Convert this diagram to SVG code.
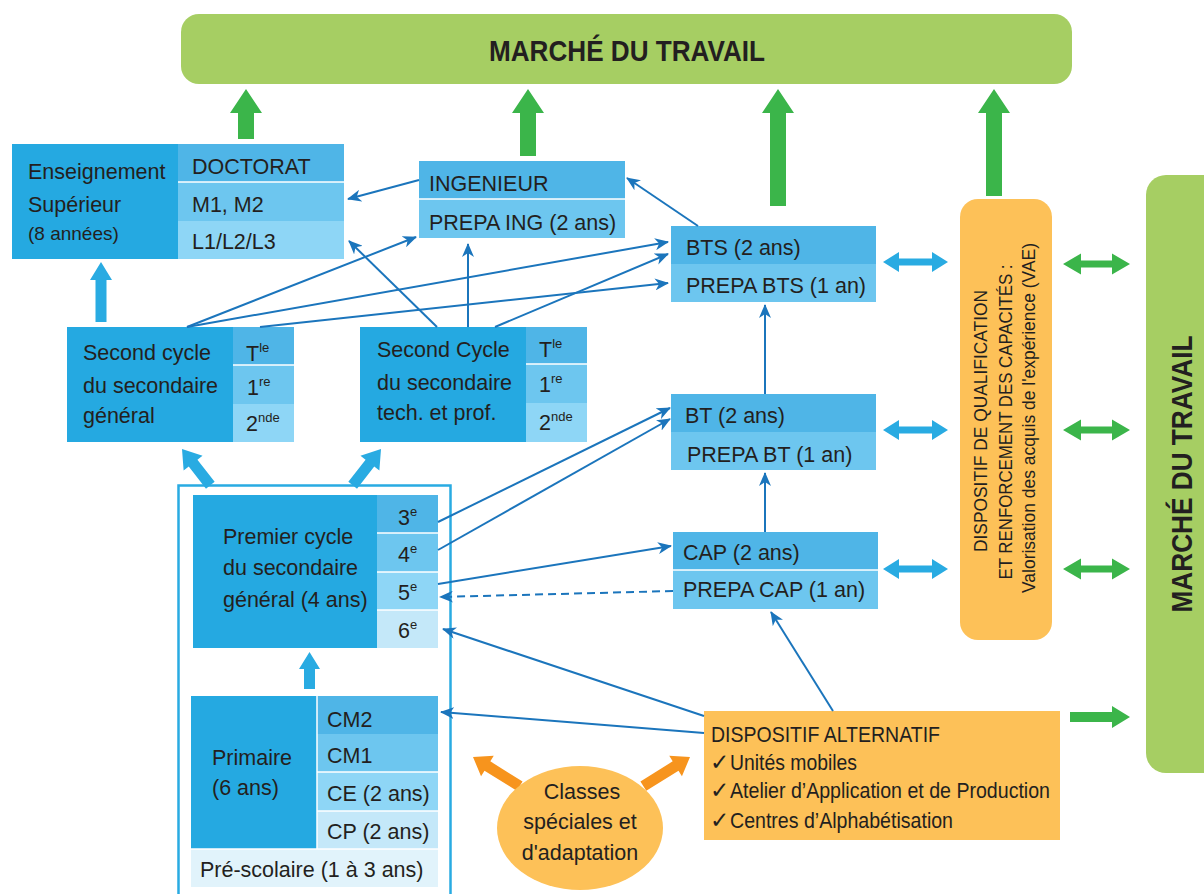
<svg xmlns="http://www.w3.org/2000/svg" width="1204" height="894" viewBox="0 0 1204 894">
<defs>
<style>
.t{font-family:"Liberation Sans","DejaVu Sans",sans-serif;font-size:21.5px;fill:#231f20}
.s{font-size:13px}
.b{font-weight:bold}
.ck{font-family:"DejaVu Sans",sans-serif;font-size:23px;fill:#231f20}
.c{fill:none;stroke:#1b75bc;stroke-width:2;marker-end:url(#ah)}
.d{stroke-dasharray:8 5}
.m{fill:#25a9e1}
.r1{fill:#4fb5e7}
.r2{fill:#6dc6ef}
.r3{fill:#8ed6f6}
.r4{fill:#c4e8f9}
.r5{fill:#e1f3fb}
.sep{stroke:#fff;stroke-width:1.5}
.ga{fill:#3bb54a}
.ba{fill:#29abe2}
.oa{fill:#f7941d}
.or{fill:#fdc158}
.gr{fill:#a6ce63}
</style>
<marker id="ah" markerUnits="userSpaceOnUse" markerWidth="14" markerHeight="12" refX="13" refY="6" orient="auto">
<path d="M0,0 L14,6 L0,12 L4,6 z" fill="#1b75bc"/>
</marker>
</defs>

<g id="marche-top">
<rect x="181" y="14" width="891" height="70" rx="18" class="gr"/>
<text x="627" y="61" class="t b" style="font-size:30px" text-anchor="middle" textLength="276" lengthAdjust="spacingAndGlyphs">MARCHÉ DU TRAVAIL</text>
</g>

<g id="marche-right">
<rect x="1146" y="175" width="90" height="598" rx="20" class="gr"/>
<text transform="translate(1192,474) rotate(-90)" class="t b" style="font-size:30px" text-anchor="middle" textLength="277" lengthAdjust="spacingAndGlyphs">MARCHÉ DU TRAVAIL</text>
</g>

<g id="green-arrows">
<polygon class="ga" points="246,89 262,113 254,113 254,139 238,139 238,113 230,113"/>
<polygon class="ga" points="528,89 544,113 536,113 536,156 520,156 520,113 512,113"/>
<polygon class="ga" points="778,89 794,113 786,113 786,206 770,206 770,113 762,113"/>
<polygon class="ga" points="994,89 1010,113 1002,113 1002,196 986,196 986,113 978,113"/>
<path class="ga" d="M1063,264 L1081,253.5 L1081,260.5 L1112,260.5 L1112,253.5 L1130,264 L1112,274.5 L1112,267.5 L1081,267.5 L1081,274.5 Z"/>
<path class="ga" d="M1063,430 L1081,419.5 L1081,426.5 L1112,426.5 L1112,419.5 L1130,430 L1112,440.5 L1112,433.5 L1081,433.5 L1081,440.5 Z"/>
<path class="ga" d="M1063,569 L1081,558.5 L1081,565.5 L1112,565.5 L1112,558.5 L1130,569 L1112,579.5 L1112,572.5 L1081,572.5 L1081,579.5 Z"/>
<path class="ga" d="M1070,712 L1112,712 L1112,706 L1130,717 L1112,728 L1112,722 L1070,722 Z"/>
</g>

<g id="blue-arrows">
<path class="ba" d="M883,262 L899,252 L899,258.5 L932,258.5 L932,252 L948,262 L932,272 L932,265.5 L899,265.5 L899,272 Z"/>
<path class="ba" d="M883,430 L899,420 L899,426.5 L932,426.5 L932,420 L948,430 L932,440 L932,433.5 L899,433.5 L899,440 Z"/>
<path class="ba" d="M883,569 L899,559 L899,565.5 L932,565.5 L932,559 L948,569 L932,579 L932,572.5 L899,572.5 L899,579 Z"/>
<polygon class="ba" points="101,262 112,280 106.5,280 106.5,322 95.5,322 95.5,280 90,280"/>
<polygon class="ba" points="309.5,652 320,669 315,669 315,689 304,689 304,669 299,669"/>
<polygon class="ba" transform="translate(182,449) rotate(-38)" points="0,0 12,18 5.5,18 5.5,46 -5.5,46 -5.5,18 -12,18"/>
<polygon class="ba" transform="translate(381,449) rotate(38)" points="0,0 12,18 5.5,18 5.5,46 -5.5,46 -5.5,18 -12,18"/>
</g>

<g id="ens-sup">
<rect x="12" y="144" width="166" height="115" class="m"/>
<rect x="178" y="144" width="166" height="38" class="r1"/>
<rect x="178" y="182" width="166" height="39" class="r2"/>
<rect x="178" y="221" width="166" height="38" class="r3"/>
<line x1="178" y1="182" x2="344" y2="182" class="sep"/>
<text class="t" x="28" y="179">Enseignement</text>
<text class="t" x="28" y="212">Supérieur</text>
<text class="t" x="28" y="240" style="font-size:19px">(8 années)</text>
<text class="t" x="192" y="174">DOCTORAT</text>
<text class="t" x="192" y="212">M1, M2</text>
<text class="t" x="192" y="249">L1/L2/L3</text>
</g>

<g id="ingenieur">
<rect x="419" y="161" width="206" height="38" class="r1"/>
<rect x="419" y="199" width="206" height="39" class="r2"/>
<line x1="419" y1="199" x2="625" y2="199" class="sep"/>
<text class="t" x="429" y="191">INGENIEUR</text>
<text class="t" x="429" y="230">PREPA ING (2 ans)</text>
</g>

<g id="bts">
<rect x="671" y="226" width="205" height="38" class="r1"/>
<rect x="671" y="264" width="205" height="38" class="r2"/>
<text class="t" x="686" y="255">BTS (2 ans)</text>
<text class="t" x="686" y="293">PREPA BTS (1 an)</text>
</g>

<g id="bt">
<rect x="671" y="394" width="205" height="38" class="r1"/>
<rect x="671" y="432" width="205" height="38" class="r2"/>
<text class="t" x="685" y="423">BT (2 ans)</text>
<text class="t" x="687" y="462">PREPA BT (1 an)</text>
</g>

<g id="cap">
<rect x="673" y="532" width="205" height="38" class="r1"/>
<rect x="673" y="570" width="205" height="39" class="r2"/>
<line x1="673" y1="570" x2="878" y2="570" class="sep"/>
<text class="t" x="683" y="560">CAP (2 ans)</text>
<text class="t" x="683" y="597">PREPA CAP (1 an)</text>
</g>

<g id="second-general">
<rect x="67" y="327" width="166" height="115" class="m"/>
<rect x="233" y="327" width="61" height="38" class="r1"/>
<rect x="233" y="365" width="61" height="39" class="r2"/>
<rect x="233" y="404" width="61" height="38" class="r3"/>
<line x1="233" y1="365" x2="294" y2="365" class="sep"/>
<text class="t" x="83" y="360">Second cycle</text>
<text class="t" x="83" y="393">du secondaire</text>
<text class="t" x="83" y="423">général</text>
<text class="t" x="246" y="361">T<tspan class="s" dy="-9">le</tspan></text>
<text class="t" x="247" y="395">1<tspan class="s" dy="-9">re</tspan></text>
<text class="t" x="246" y="431">2<tspan class="s" dy="-9">nde</tspan></text>
</g>

<g id="second-tech">
<rect x="360" y="327" width="166" height="115" class="m"/>
<rect x="526" y="327" width="61" height="37" class="r1"/>
<rect x="526" y="364" width="61" height="39" class="r2"/>
<rect x="526" y="403" width="61" height="39" class="r3"/>
<line x1="526" y1="364" x2="587" y2="364" class="sep"/>
<text class="t" x="377" y="357">Second Cycle</text>
<text class="t" x="377" y="390">du secondaire</text>
<text class="t" x="377" y="420">tech. et prof.</text>
<text class="t" x="539" y="357">T<tspan class="s" dy="-9">le</tspan></text>
<text class="t" x="539" y="392">1<tspan class="s" dy="-9">re</tspan></text>
<text class="t" x="539" y="430">2<tspan class="s" dy="-9">nde</tspan></text>
</g>

<g id="frame">
<rect x="178.5" y="485.5" width="272" height="430" fill="none" stroke="#29abe2" stroke-width="2.5"/>
</g>

<g id="premier-cycle">
<rect x="193" y="495" width="184" height="153" class="m"/>
<rect x="377" y="495" width="61" height="38" class="r1"/>
<rect x="377" y="533" width="61" height="39" class="r2"/>
<rect x="377" y="572" width="61" height="38" class="r3"/>
<rect x="377" y="610" width="61" height="38" class="r4"/>
<line x1="377" y1="533" x2="438" y2="533" class="sep"/>
<line x1="377" y1="572" x2="438" y2="572" class="sep"/>
<line x1="377" y1="610" x2="438" y2="610" class="sep"/>
<text class="t" x="223" y="544">Premier cycle</text>
<text class="t" x="223" y="575">du secondaire</text>
<text class="t" x="223" y="607">général (4 ans)</text>
<text class="t" x="398" y="525">3<tspan class="s" dy="-9">e</tspan></text>
<text class="t" x="398" y="562">4<tspan class="s" dy="-9">e</tspan></text>
<text class="t" x="398" y="600">5<tspan class="s" dy="-9">e</tspan></text>
<text class="t" x="398" y="638">6<tspan class="s" dy="-9">e</tspan></text>
</g>

<g id="primaire">
<rect x="191" y="696" width="126" height="153" class="m"/>
<rect x="317" y="696" width="121" height="38" class="r1"/>
<rect x="317" y="734" width="121" height="38" class="r2"/>
<rect x="317" y="772" width="121" height="39" class="r3"/>
<rect x="317" y="811" width="121" height="38" class="r4"/>
<rect x="191" y="849" width="247" height="38" class="r5"/>
<line x1="317" y1="696" x2="317" y2="849" class="sep"/>
<line x1="317" y1="772" x2="438" y2="772" class="sep"/>
<line x1="317" y1="811" x2="438" y2="811" class="sep"/>
<line x1="191" y1="849" x2="438" y2="849" class="sep"/>
<text class="t" x="212" y="765">Primaire</text>
<text class="t" x="212" y="795">(6 ans)</text>
<text class="t" x="327" y="727">CM2</text>
<text class="t" x="327" y="763">CM1</text>
<text class="t" x="327" y="801">CE (2 ans)</text>
<text class="t" x="327" y="839">CP (2 ans)</text>
<text class="t" x="200" y="877">Pré-scolaire (1 à 3 ans)</text>
</g>

<g id="qualification">
<rect x="960" y="199" width="92" height="441" rx="18" class="or"/>
<text transform="translate(987,421) rotate(-90)" class="t" style="font-size:19px" text-anchor="middle" textLength="262" lengthAdjust="spacingAndGlyphs">DISPOSITIF DE QUALIFICATION</text>
<text transform="translate(1012,422) rotate(-90)" class="t" style="font-size:19px" text-anchor="middle" textLength="315" lengthAdjust="spacingAndGlyphs">ET RENFORCEMENT DES CAPACITÉS :</text>
<text transform="translate(1035,418) rotate(-90)" class="t" style="font-size:18.5px" text-anchor="middle" textLength="350" lengthAdjust="spacingAndGlyphs">Valorisation des acquis de l'expérience (VAE)</text>
</g>

<g id="alternatif">
<rect x="704" y="711" width="356" height="129" class="or"/>
<text class="t" x="711" y="742" textLength="229" lengthAdjust="spacingAndGlyphs">DISPOSITIF ALTERNATIF</text>
<text class="ck" x="710" y="770">✓</text>
<text class="t" x="730" y="770" textLength="127" lengthAdjust="spacingAndGlyphs">Unités mobiles</text>
<text class="ck" x="710" y="798">✓</text>
<text class="t" x="730" y="798" textLength="320" lengthAdjust="spacingAndGlyphs">Atelier d’Application et de Production</text>
<text class="ck" x="710" y="828">✓</text>
<text class="t" x="730" y="828" textLength="223" lengthAdjust="spacingAndGlyphs">Centres d’Alphabétisation</text>
</g>

<g id="classes-speciales">
<polygon class="oa" transform="translate(473,757) rotate(-58)" points="0,0 12,17 5.5,17 5.5,55 -5.5,55 -5.5,17 -12,17"/>
<polygon class="oa" transform="translate(690,757) rotate(58)" points="0,0 12,17 5.5,17 5.5,55 -5.5,55 -5.5,17 -12,17"/>
<ellipse cx="580" cy="828" rx="83" ry="62" class="or"/>
<text class="t" x="582" y="799" text-anchor="middle">Classes</text>
<text class="t" x="580" y="829" text-anchor="middle">spéciales et</text>
<text class="t" x="580" y="860" text-anchor="middle">d'adaptation</text>
</g>

<g id="connectors">
<path class="c" d="M419,180 L348,199"/>
<path class="c" d="M698,226 L627,178"/>
<path class="c" d="M187,327 L416,237"/>
<path class="c" d="M187,327 L668,242"/>
<path class="c" d="M260,327 L668,283"/>
<path class="c" d="M437,327 L349,241"/>
<path class="c" d="M468,327 L468,244"/>
<path class="c" d="M495,327 L668,254"/>
<path class="c" d="M438,522 L670,408"/>
<path class="c" d="M438,550 L670,419"/>
<path class="c" d="M438,584 L671,546"/>
<path class="c d" d="M673,591 L440,597"/>
<path class="c" d="M704,716 L443,629"/>
<path class="c" d="M704,733 L441,712"/>
<path class="c" d="M833,711 L771,612"/>
<path class="c" d="M765,532 L765,473"/>
<path class="c" d="M765,394 L765,305"/>
</g>
</svg>
